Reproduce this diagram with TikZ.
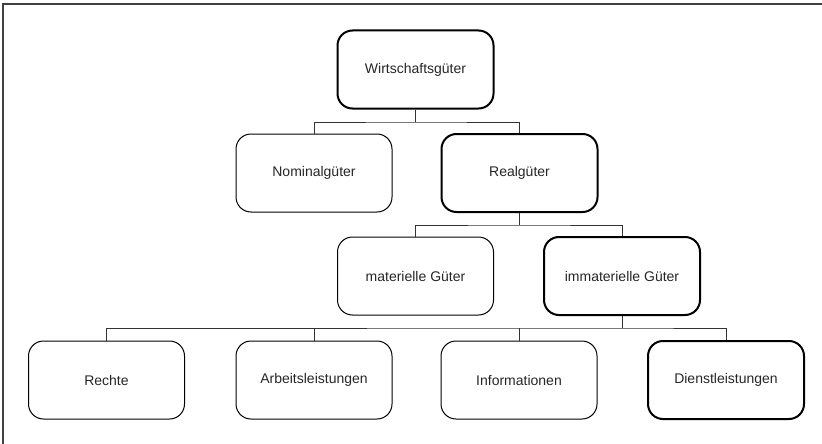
\documentclass[tikz,border=0pt]{standalone}
\usepackage{fontspec}
\setmainfont{Liberation Sans}
\begin{document}
\begin{tikzpicture}[x=1pt,y=-1pt,
  good/.style={draw=black, rounded corners=15pt, minimum width=156pt, minimum height=78pt,
    inner sep=0pt, font=\fontsize{14}{16}\selectfont, text=black!85, line width=1pt},
  goodbold/.style={good, line width=2pt},
  link/.style={draw=black!80, line width=0.8pt},
  frameline/.style={draw=black!75, line width=1.6pt}]
\useasboundingbox (0,0) rectangle (822,444);
% frame along the top and left edges
\coordinate (fa) at (3,444);
\coordinate (fb) at (3,4);
\coordinate (fc) at (822,4);
\draw[frameline] (fa) -- (fb) -- (fc);

% level 1
\node[goodbold] (wg) at (415.5,69.5) {Wirtschaftsgüter};
% level 2
\node[good]     (ng) at (314,173) {Nominalgüter};
\node[goodbold] (rg) at (519.5,173) {Realgüter};
% level 3
\node[good]     (mg) at (415.5,276) {materielle Güter};
\node[goodbold] (ig) at (622,276) {immaterielle Güter};
% level 4
\node[good]     (re) at (106.5,380) {Rechte};
\node[good]     (al) at (314,380) {Arbeitsleistungen};
\node[good]     (in) at (519,380) {Informationen};
\node[goodbold] (dl) at (726,380) {Dienstleistungen};

% junction points of the tree
\coordinate (j1) at (415.5,122);
\coordinate (j2) at (519.5,225);
\coordinate (j3) at (622,328);

\draw[link] (wg.south) -- (j1);
\draw[link] (ng.north) |- (j1) -| (rg.north);

\draw[link] (rg.south) -- (j2);
\draw[link] (mg.north) |- (j2) -| (ig.north);

\draw[link] (ig.south) -- (j3);
\draw[link] (re.north) |- (j3) -| (dl.north);
\draw[link] (al.north) -- (al.north |- j3);
\draw[link] (in.north) -- (in.north |- j3);
\end{tikzpicture}
\end{document}
